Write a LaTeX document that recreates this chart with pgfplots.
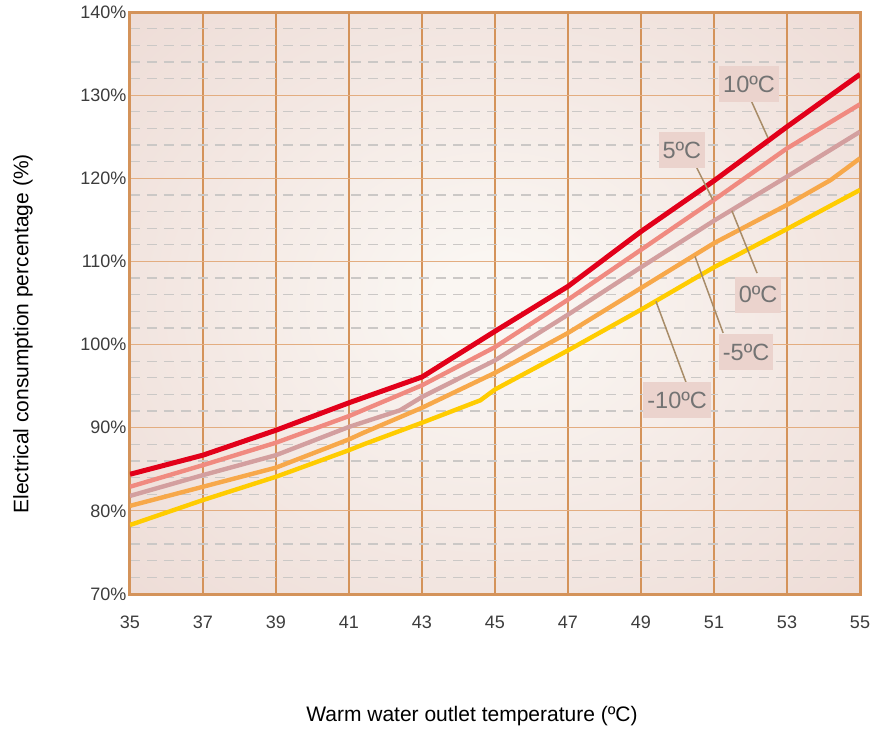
\documentclass[border=0pt]{standalone}
\usepackage{pgfplots}
\pgfplotsset{compat=1.18}
\usepackage{fontspec}
\setmainfont{Liberation Sans}

\definecolor{frameor}{HTML}{D4935A}
\definecolor{gridor}{HTML}{E3AD80}
\definecolor{dashgrey}{HTML}{CBC8C6}
\definecolor{bgin}{HTML}{FAF6F2}
\definecolor{bgmid}{HTML}{F3E7E2}
\definecolor{bgmid2}{HTML}{ECD9D3}
\definecolor{bgout}{HTML}{E8D0C9}
\definecolor{tickgrey}{HTML}{3C3C3C}
\definecolor{labgrey}{HTML}{737373}
\definecolor{boxfill}{HTML}{EBD3CD}
\definecolor{leadercol}{HTML}{A88C68}
\definecolor{cred}{HTML}{E2001A}
\definecolor{csalmon}{HTML}{F08A80}
\definecolor{cmauve}{HTML}{D39F9F}
\definecolor{corange}{HTML}{F7A84A}
\definecolor{cyellow}{HTML}{FFCC00}

% soft radial background: white in the middle, pink at the edges
\pgfdeclareradialshading{bgshade}{\pgfpoint{0bp}{0bp}}{color(0bp)=(bgin); color(4bp)=(bgin); color(22bp)=(bgmid); color(40bp)=(bgmid2); color(50bp)=(bgout)}

\tikzset{
  lab/.style={fill=boxfill, text=labgrey, font=\fontsize{23.5}{26}\selectfont, inner xsep=4pt, minimum height=36pt},
  lead/.style={draw=leadercol, line width=1.5pt},
}

\begin{document}
\begin{tikzpicture}
\path[use as bounding box] (-130pt,-135pt) rectangle (754pt,594pt);
\begin{axis}[
  at={(0pt,0pt)}, anchor=south west,
  scale only axis, width=730pt, height=582pt,
  xmin=35, xmax=55, ymin=70, ymax=140,
  xtick={35,37,...,55}, ytick={70,80,...,140},
  minor y tick num=4,
  xmajorgrids, ymajorgrids, yminorgrids,
  major x grid style={draw=frameor, line width=2pt},
  major y grid style={draw=gridor, line width=0.9pt},
  minor y grid style={draw=dashgrey, line width=1.3pt, dash pattern=on 10pt off 7pt},
  major tick length=0pt, minor tick length=0pt,
  axis line style={draw=frameor, line width=3pt},
  axis background/.style={shading=bgshade},
  /pgf/number format/assume math mode=true,
  tick label style={font=\fontsize{18}{20}\selectfont, text=tickgrey},
  yticklabel={\pgfmathprintnumber{\tick}\%},
  xticklabel style={anchor=center, yshift=-28pt},
  xlabel={Warm water outlet temperature (ºC)},
  ylabel={Electrical consumption percentage (\%)},
  every axis x label/.style={at={(rel axis cs:0.4685,0)}, anchor=center, yshift=-122pt, font=\fontsize{21}{24}\selectfont},
  every axis y label/.style={at={(rel axis cs:0,0.447)}, xshift=-107pt, rotate=90, anchor=center, font=\fontsize{21}{24}\selectfont},
]
\addplot[cyellow, line width=4.4pt] coordinates {
  (35,78.3) (37,81.3) (39,84.1) (41,87.3) (41.4,88.0) (43,90.6) (44.6,93.3)
  (45,94.6) (47,99.3) (49,104.2) (51,109.3) (53,113.9) (55,118.6)
};
\addplot[corange, line width=4.4pt] coordinates {
  (35,80.6) (37,82.9) (39,85.2) (41,88.6) (41.4,89.4) (43,92.4) (45,96.6)
  (47,101.4) (49,106.8) (51,112.2) (53,116.8) (54.2,119.8) (55,122.4)
};
\addplot[cmauve, line width=4.4pt] coordinates {
  (35,81.8) (37,84.3) (39,86.7) (41,90.1) (42.4,92.1) (43,93.7) (45,98.1)
  (47,103.6) (49,109.3) (51,114.9) (53,120.2) (55,125.6)
};
\addplot[csalmon, line width=4.4pt] coordinates {
  (35,82.9) (37,85.5) (39,88.2) (41,91.4) (43,95.1) (45,99.7)
  (47,105.4) (49,111.4) (51,117.4) (53,123.6) (55,128.9)
};
\addplot[cred, line width=5pt] coordinates {
  (35,84.4) (37,86.7) (39,89.7) (41,93.0) (43,96.1) (45,101.6)
  (47,107.0) (49,113.6) (51,119.7) (53,126.2) (55,132.5)
};

\draw[lead] (axis cs:51.96,129.9) -- (axis cs:52.48,124.85);
\draw[lead] (axis cs:50.42,122.2) -- (axis cs:50.97,117.4);
\draw[lead] (axis cs:51.49,116.1) -- (axis cs:52.18,108.6);
\draw[lead] (axis cs:50.48,110.6) -- (axis cs:51.25,101.4);
\draw[lead] (axis cs:49.41,105.2) -- (axis cs:50.23,95.5);

\node[lab] at (axis cs:51.96,131.3) {10ºC};
\node[lab] at (axis cs:50.12,123.4) {5ºC};
\node[lab] at (axis cs:52.21,106.0) {0ºC};
\node[lab] at (axis cs:51.88,99.1) {-5ºC};
\node[lab] at (axis cs:49.99,93.3) {-10ºC};
\end{axis}
\end{tikzpicture}
\end{document}
